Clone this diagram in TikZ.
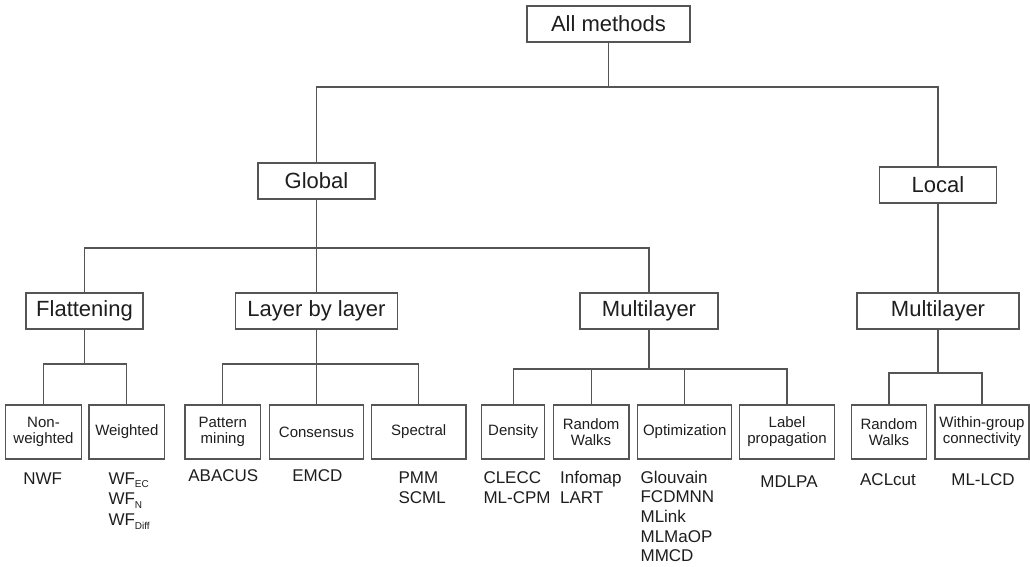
\documentclass[tikz,border=0pt]{standalone}
\usepackage{fontspec}
\setmainfont{Liberation Sans}
\definecolor{edge}{RGB}{85,85,85}
\definecolor{txt}{RGB}{30,30,30}
\newcommand{\lsub}[1]{\raisebox{-3.5pt}{\fontsize{10}{10}\selectfont #1}}
\begin{document}
\begin{tikzpicture}[x=1pt,y=-1pt,
  bigbox/.style={draw=edge, line width=1.2pt, inner sep=0pt, minimum height=36pt, font=\fontsize{22}{24}\selectfont, text=txt},
  smallbox/.style={draw=edge, line width=1.2pt, inner sep=0pt, minimum height=54pt, align=center, font=\fontsize{15}{16}\selectfont, text=txt},
  method/.style={inner sep=0pt, font=\fontsize{17}{19}\selectfont, text=txt},
  conn/.style={draw=edge, line width=1.2pt}]
\fill[white] (0,0) rectangle (1030,566);
\useasboundingbox (0,0) rectangle (1030,566);

% level nodes
\node[bigbox, minimum width=163pt] (all) at (608.5,24) {All methods};
\node[bigbox, minimum width=117pt] (global) at (316.5,181) {Global};
\node[bigbox, minimum width=117pt] (local) at (938,185) {Local};
\node[bigbox, minimum width=117pt] (flat) at (84.5,311) {Flattening};
\node[bigbox, minimum width=162pt] (lbl) at (316.5,311) {Layer by layer};
\node[bigbox, minimum width=138pt] (mlg) at (649,311) {Multilayer};
\node[bigbox, minimum width=162pt] (mll) at (938,311) {Multilayer};

% small boxes
\node[smallbox, minimum width=75.6pt] (nonw) at (43.5,432) {Non-\\weighted};
\node[smallbox, minimum width=75.7pt] (wtd) at (126.8,432) {Weighted};
\node[smallbox, minimum width=75.7pt] (pat) at (222.8,432) {Pattern\\mining};
\node[smallbox, minimum width=94.3pt] (cons) at (316.5,432) {Consensus};
\node[smallbox, minimum width=94.7pt] (spec) at (418.7,432) {Spectral};
\node[smallbox, minimum width=62.8pt] (dens) at (513.2,432) {Density};
\node[smallbox, minimum width=75.8pt] (rw1) at (591.1,432) {Random\\Walks};
\node[smallbox, minimum width=94.3pt] (opt) at (684.7,432) {Optimization};
\node[smallbox, minimum width=94.7pt] (labp) at (787,432) {Label\\propagation};
\node[smallbox, minimum width=75pt] (rw2) at (888.9,432) {Random\\Walks};
\node[smallbox, minimum width=94pt] (wgc) at (982,432) {Within-group\\connectivity};

% bus levels
\coordinate (b0) at (0,87);
\coordinate (b1) at (0,248);
\coordinate (b2) at (0,364);
\coordinate (b3) at (0,369);
\coordinate (b4) at (0,373);

% connectors
\draw[conn] (all.south) -- (all.south |- b0);
\draw[conn] (global.north) |- (b0 -| local.north) -- (local.north);
\draw[conn] (global.south) -- (lbl.north);
\draw[conn] (flat.north) |- (b1 -| mlg.north) -- (mlg.north);
\draw[conn] (local.south) -- (mll.north);
\draw[conn] (flat.south) -- (flat.south |- b2);
\draw[conn] (nonw.north) |- (b2 -| wtd.north) -- (wtd.north);
\draw[conn] (lbl.south) -- (cons.north);
\draw[conn] (pat.north) |- (b2 -| spec.north) -- (spec.north);
\draw[conn] (mlg.south) -- (mlg.south |- b3);
\draw[conn] (dens.north) |- (b3 -| labp.north) -- (labp.north);
\draw[conn] (rw1.north) -- (rw1.north |- b3);
\draw[conn] (opt.north) -- (opt.north |- b3);
\draw[conn] (mll.south) -- (mll.south |- b4);
\draw[conn] (rw2.north) |- (b4 -| wgc.north) -- (wgc.north);

% method labels
\node[method, anchor=base] (m1) at (42.7,484) {NWF};
\node[method, anchor=base west] (m2) at (108.3,484) {WF\lsub{EC}};
\node[method, anchor=base west] (m3) at (108.3,504.5) {WF\lsub{N}};
\node[method, anchor=base west] (m4) at (108.3,525.5) {WF\lsub{Diff}};
\node[method, anchor=base] (m5) at (223.3,481.5) {ABACUS};
\node[method, anchor=base] (m6) at (317.3,481.5) {EMCD};
\node[method, anchor=base west] (m7) at (398.3,483) {PMM};
\node[method, anchor=base west] (m8) at (398.3,503) {SCML};
\node[method, anchor=base west] (m9) at (483.3,483) {CLECC};
\node[method, anchor=base west] (m10) at (483.3,503) {ML-CPM};
\node[method, anchor=base west] (m11) at (560,483) {Infomap};
\node[method, anchor=base west] (m12) at (560,503) {LART};
\node[method, anchor=base west] (m13) at (640.4,483) {Glouvain};
\node[method, anchor=base west] (m14) at (640.4,502.7) {FCDMNN};
\node[method, anchor=base west] (m15) at (640.4,522.3) {MLink};
\node[method, anchor=base west] (m16) at (640.4,542) {MLMaOP};
\node[method, anchor=base west] (m17) at (640.4,561.6) {MMCD};
\node[method, anchor=base] (m18) at (789,487) {MDLPA};
\node[method, anchor=base] (m19) at (888,485) {ACLcut};
\node[method, anchor=base] (m20) at (983,485) {ML-LCD};
\end{tikzpicture}
\end{document}
